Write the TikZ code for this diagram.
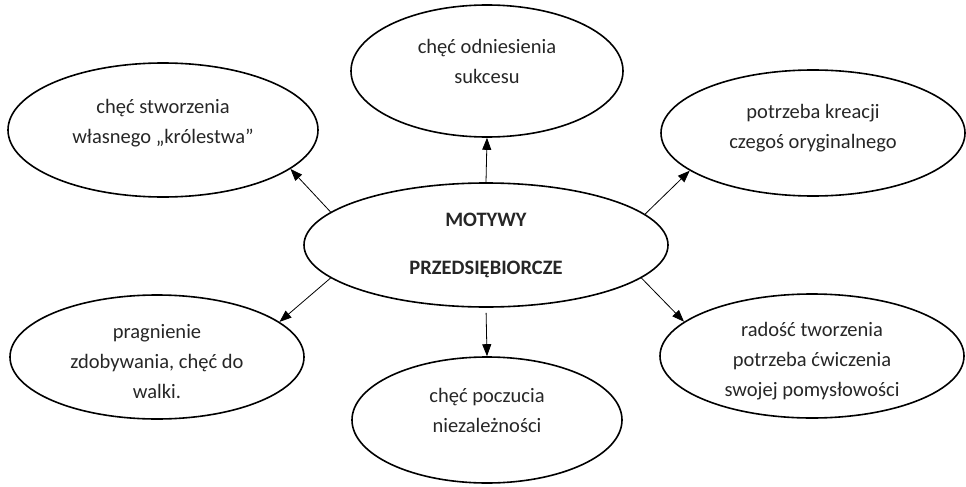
\documentclass[tikz,border=0pt]{standalone}
\usepackage{fontspec}
\setmainfont{Carlito}
\usetikzlibrary{arrows.meta,shapes.geometric}
\begin{document}
\begin{tikzpicture}[x=1pt, y=-1pt,
  motive/.style = {draw, ellipse, line width=1.6pt, inner sep=0pt},
  words/.style = {align=center, text=black!85, font=\fontsize{20.5}{30}\selectfont},
  link/.style = {-{Triangle[length=12pt,width=9pt]}, line width=0.8pt}]
\useasboundingbox (0,0) rectangle (966,487);
\node[motive, minimum width=364pt, minimum height=124pt,
  label={[words]center:{\textbf{MOTYWY}\\[18pt]\textbf{PRZEDSIĘBIORCZE}}}] (c) at (486,245) {};
\node[motive, minimum width=272pt, minimum height=132pt,
  label={[words, yshift=10pt]center:{chęć odniesienia\\ sukcesu}}] (top) at (487,71) {};
\node[motive, minimum width=310pt, minimum height=134pt,
  label={[words, yshift=7pt]center:{chęć stworzenia\\ własnego „królestwa”}}] (tl) at (163,130) {};
\node[motive, minimum width=304pt, minimum height=126pt,
  label={[words, yshift=5pt]center:{potrzeba kreacji\\ czegoś oryginalnego}}] (tr) at (813,133) {};
\node[motive, minimum width=294pt, minimum height=124pt,
  label={[words, yshift=-5pt]center:{pragnienie\\ zdobywania, chęć do\\ walki.}}] (bl) at (157,357) {};
\node[motive, minimum width=270pt, minimum height=126pt,
  label={[words, yshift=10pt]center:{chęć poczucia\\ niezależności}}] (b) at (487,420) {};
\node[motive, minimum width=304pt, minimum height=124pt,
  label={[words, yshift=-5pt]center:{radość tworzenia\\ potrzeba ćwiczenia\\ swojej pomysłowości}}] (br) at (812,356) {};
\draw[link] (c.90) -- (top.-90);
\draw[link, shorten <=5pt] (c.-90) -- (b.90);
\draw[link] (c.168) -- (tl.-17);
\draw[link] (c.11) -- (tr.197);
\draw[link] (c.192) -- (bl.16);
\draw[link] (c.348) -- (br.165);
\end{tikzpicture}
\end{document}
